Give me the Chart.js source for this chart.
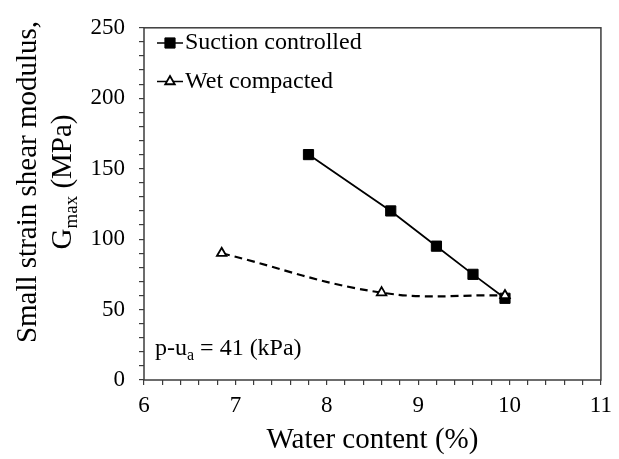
<!DOCTYPE html>
<html>
<head>
<meta charset="utf-8">
<script src="https://cdn.jsdelivr.net/npm/chart.js@4/dist/chart.umd.min.js"></script>
<style>
  html, body { margin: 0; padding: 0; background: #fff; }
  #wrap { width: 619px; height: 459px; }
</style>
</head>
<body>
<div id="wrap"><canvas id="chart"></canvas></div>
<script>
// Gmax vs water content, p-ua = 41 kPa
const suctionWater = [7.8, 8.7, 9.2, 9.6, 9.95];
const suctionGmax = [160, 120, 95, 75, 58];
const wetWater = [6.85, 8.6, 9.95];
const wetGmax = [90, 62, 60];
const xTickLabels = [6, 7, 8, 9, 10, 11];
const yTickLabels = [0, 50, 100, 150, 200, 250];

const SERIF = '"Liberation Serif", "Times New Roman", serif';
const AXIS_COLOR = '#3c3c3c';

const toPoints = (xs, ys) => xs.map((x, i) => ({ x, y: ys[i] }));

// frame, legend, axis titles and the stress note
const decorations = {
    id: 'decorations',
    afterDraw(chart) {
        const { ctx, chartArea: a } = chart;
        ctx.save();
        ctx.setLineDash([]);

        ctx.strokeStyle = AXIS_COLOR;
        ctx.lineWidth = 1.5;
        ctx.strokeRect(a.left, a.top, a.right - a.left, a.bottom - a.top);

        // legend: line + marker + label
        ctx.font = '24px ' + SERIF;
        ctx.textBaseline = 'middle';
        ctx.fillStyle = '#000';
        chart.data.datasets.forEach((ds, i) => {
            const y = 43 + i * 38.5;
            ctx.save();
            ctx.setLineDash([]);
            ctx.strokeStyle = '#000';
            ctx.lineWidth = 1.5;
            ctx.beginPath();
            ctx.moveTo(157, y);
            ctx.lineTo(183, y);
            ctx.stroke();
            ctx.fillStyle = ds.pointBackgroundColor;
            ctx.strokeStyle = ds.pointBorderColor;
            ctx.lineWidth = ds.pointBorderWidth;
            Chart.helpers.drawPoint(ctx, {
                pointStyle: ds.pointStyle,
                radius: ds.pointRadius,
                rotation: 0,
                borderWidth: ds.pointBorderWidth,
            }, 170, y);
            ctx.restore();
            ctx.fillText(ds.label, 185, y);
        });

        // p-ua note
        ctx.textBaseline = 'alphabetic';
        let x = 155;
        const base = 355;
        ctx.font = '24px ' + SERIF;
        ctx.fillText('p-u', x, base);
        x += ctx.measureText('p-u').width;
        ctx.font = '16px ' + SERIF;
        ctx.fillText('a', x, base + 5);
        x += ctx.measureText('a').width;
        ctx.font = '24px ' + SERIF;
        ctx.fillText(' = 41 (kPa)', x, base);

        // x title
        ctx.font = '29px ' + SERIF;
        ctx.textAlign = 'center';
        ctx.fillText('Water content (%)', (a.left + a.right) / 2, 448);

        // y title, two rotated lines
        ctx.save();
        ctx.translate(0, 182);
        ctx.rotate(-Math.PI / 2);
        ctx.textAlign = 'center';
        ctx.font = '29px ' + SERIF;
        ctx.fillText('Small strain shear modulus,', 0, 36);
        const g = 'G', sub = 'max', rest = ' (MPa)';
        const wg = ctx.measureText(g).width, wr = ctx.measureText(rest).width;
        ctx.font = '19px ' + SERIF;
        const ws = ctx.measureText(sub).width;
        let sx = -(wg + ws + wr) / 2;
        ctx.textAlign = 'left';
        ctx.font = '29px ' + SERIF;
        ctx.fillText(g, sx, 71);
        sx += wg;
        ctx.font = '19px ' + SERIF;
        ctx.fillText(sub, sx, 77);
        sx += ws;
        ctx.font = '29px ' + SERIF;
        ctx.fillText(rest, sx, 71);
        ctx.restore();

        ctx.restore();
    }
};

new Chart(document.getElementById('chart'), {
    type: 'scatter',
    data: {
        datasets: [
            {
                label: 'Suction controlled',
                data: toPoints(suctionWater, suctionGmax),
                showLine: true,
                borderColor: '#000',
                borderWidth: 1.8,
                pointStyle: 'rect',
                pointRadius: 7.2,
                pointBackgroundColor: '#000',
                pointBorderColor: '#000',
                pointBorderWidth: 1,
                order: 1,
            },
            {
                label: 'Wet compacted',
                data: toPoints(wetWater, wetGmax),
                showLine: true,
                tension: 0.4,
                borderColor: '#000',
                borderWidth: 2.2,
                borderDash: [8, 5],
                pointStyle: 'triangle',
                pointRadius: 5.5,
                pointBackgroundColor: '#fff',
                pointBorderColor: '#000',
                pointBorderWidth: 1.8,
                order: 0,
            },
        ],
    },
    options: {
        responsive: true,
        maintainAspectRatio: false,
        animation: false,
        layout: { padding: { left: 0, right: 9, top: 20, bottom: 0 } },
        plugins: {
            legend: { display: false },
            tooltip: { enabled: false },
        },
        scales: {
            x: {
                type: 'linear',
                min: xTickLabels[0],
                max: xTickLabels[xTickLabels.length - 1],
                afterFit: s => { s.height = 79; },
                border: { display: false },
                grid: { drawOnChartArea: false, tickLength: 5, color: AXIS_COLOR, lineWidth: 1.2 },
                ticks: {
                    stepSize: 0.2,
                    autoSkip: false,
                    maxRotation: 0,
                    padding: 7,
                    color: '#000',
                    font: { family: SERIF, size: 23 },
                    callback: v => {
                        const r = Math.round(v * 100) / 100;
                        return xTickLabels.includes(r) ? String(r) : '';
                    },
                },
            },
            y: {
                min: yTickLabels[0],
                max: yTickLabels[yTickLabels.length - 1],
                afterFit: s => { s.width = 144; },
                border: { display: false },
                grid: { drawOnChartArea: false, tickLength: 5, color: AXIS_COLOR, lineWidth: 1.2 },
                ticks: {
                    stepSize: 10,
                    autoSkip: false,
                    padding: 14,
                    color: '#000',
                    font: { family: SERIF, size: 23 },
                    callback: v => (yTickLabels.includes(v) ? String(v) : ''),
                },
            },
        },
    },
    plugins: [decorations],
});
</script>
</body>
</html>
